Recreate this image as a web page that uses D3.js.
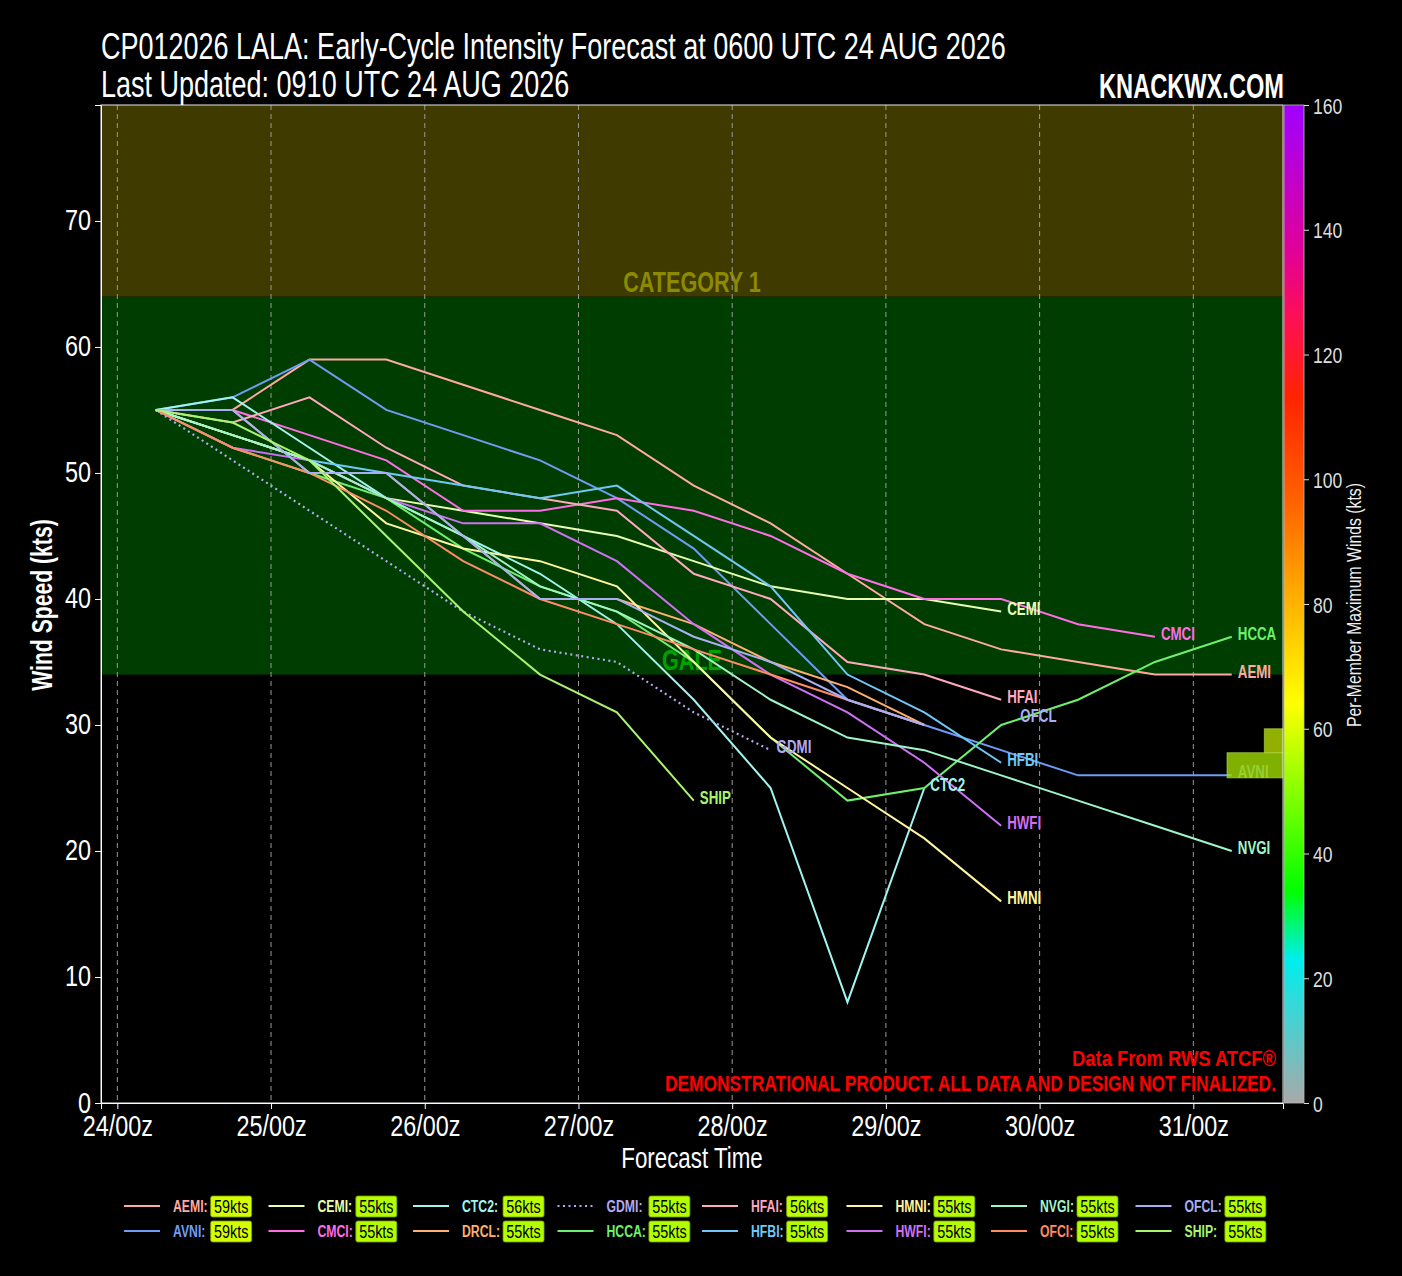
<!DOCTYPE html>
<html>
<head>
<meta charset="utf-8">
<script src="https://cdn.jsdelivr.net/npm/d3@7"></script>
<style>
  body { margin: 0; background: #000; }
  svg { display: block; font-family: "Liberation Sans", Arial, sans-serif; }
</style>
</head>
<body>
<script>
// forecast hours after the 0600 UTC 24 AUG 2026 init
var taus = [0, 12, 24, 36, 48, 60, 72, 84, 96, 108, 120, 132, 144, 156, 168];

var models = ["AEMI", "AVNI", "CEMI", "CMCI", "CTC2", "DRCL", "GDMI", "HCCA",
              "HFAI", "HFBI", "HMNI", "HWFI", "NVGI", "OFCI", "OFCL", "SHIP"];
var modelColors = ["#ffaaa0", "#6f9cf5", "#e8ffb0", "#ff6ee6", "#a0f5f0", "#ffb070", "#b4a8f0", "#6ef06e",
                   "#ffa8c0", "#6ec8f8", "#fff5a0", "#d070f5", "#a0f5c8", "#ff8c64", "#a8b0f5", "#a8f570"];

// wind speed (kts) per model, one value per tau
var AEMI = [55, 55, 59, 59, 57, 55, 53, 49, 46, 42, 38, 36, 35, 34, 34];
var AVNI = [55, 56, 59, 55, 53, 51, 48, 44, 38, 32, 30, 28, 26, 26, 26];
var CEMI = [55, 53, 51, 48, 47, 46, 45, 43, 41, 40, 40, 39];
var CMCI = [55, 55, 53, 51, 47, 47, 48, 47, 45, 42, 40, 40, 38, 37];
var CTC2 = [55, 56, 52, 48, 45, 42, 38, 32, 25, 8, 25];
var DRCL = [55, 55, 50, 50, 45, 40, 40, 38, 35, 33, 30];
var GDMI = [55, 51, 47, 43, 39, 36, 35, 31, 28];
var HCCA = [55, 52, 50, 48, 44, 41, 39, 35, 29, 24, 25, 30, 32, 35, 37];
var HFAI = [55, 54, 56, 52, 49, 48, 47, 42, 40, 35, 34, 32];
var HFBI = [55, 53, 51, 50, 49, 48, 49, 45, 41, 34, 31, 27];
var HMNI = [55, 53, 51, 46, 44, 43, 41, 35, 29, 25, 21, 16];
var HWFI = [55, 52, 51, 48, 46, 46, 43, 38, 34, 31, 27, 22];
var NVGI = [55, 53, 51, 48, 45, 41, 39, 36, 32, 29, 28, 26, 24, 22, 20];
var OFCI = [55, 52, 50, 47, 43, 40, 38, 36, 34, 32, 30];
var OFCL = [55, 55, 50, 50, 45, 40, 40, 37, 35, 32, 30];
var SHIP = [55, 54, 51, 45, 39, 34, 31, 24];

var windData = { AEMI: AEMI, AVNI: AVNI, CEMI: CEMI, CMCI: CMCI, CTC2: CTC2, DRCL: DRCL,
                 GDMI: GDMI, HCCA: HCCA, HFAI: HFAI, HFBI: HFBI, HMNI: HMNI, HWFI: HWFI,
                 NVGI: NVGI, OFCI: OFCI, OFCL: OFCL, SHIP: SHIP };

// end labels that are dropped / moved to dodge neighbours
var hiddenLabels = ["DRCL", "OFCI"];
var labelNudge = { OFCL: [90, -6] };

// intensity bands
var bandNames = ["GALE", "CATEGORY 1"];
var bandLow = [34, 64];
var bandHigh = [64, 79.2];
var bandFill = ["#003d00", "#3e3a00"];
var bandText = ["#00a000", "#8c8a00"];

// small histogram on the right edge
var histEdges = [25.8, 27.8, 29.7];
var histCounts = [3, 1];

// colour map stops (kts)
var cmapStops = [0, 23, 34, 64, 83, 96, 113, 125, 137, 160];
var cmapColors = ["#a9a9a9", "#00eeee", "#00ff00", "#ffff00", "#ffa500", "#ff6400", "#ff2400", "#ff1050", "#e0009a", "#a000ff"];
var cbarTicks = [0, 20, 40, 60, 80, 100, 120, 140, 160];

var width = 1402, height = 1276;
var plotL = 101, plotR = 1283, plotT = 105, plotB = 1103;

var initTime = Date.UTC(2026, 7, 24, 6);
var hour = 3600 * 1000;

var x = d3.scaleUtc()
    .domain([new Date(initTime - 8.55 * hour), new Date(initTime + 176 * hour)])
    .range([plotL, plotR]);
var y = d3.scaleLinear().domain([0, 79.2]).range([plotB, plotT]);
var cmap = d3.scaleLinear().domain(cmapStops).range(cmapColors);
var cy = d3.scaleLinear().domain([0, 160]).range([plotB, plotT]);

var svg = d3.select("body").append("svg")
    .attr("width", width)
    .attr("height", height)
    .style("background", "#000");

// text squeezed horizontally to look like the condensed face of the original
function narrow(parent, px, py, str, size, k, opts) {
    opts = opts || {};
    return parent.append("text")
        .attr("transform", "translate(" + px + "," + py + ")" + (opts.rotate ? " rotate(" + opts.rotate + ")" : "") + " scale(" + k + ",1)")
        .attr("text-anchor", opts.anchor || "start")
        .attr("font-size", size)
        .attr("font-weight", opts.weight || "normal")
        .style("fill", opts.fill || "#fff")
        .text(str);
}

// bands
svg.selectAll("rect.band")
    .data(bandNames)
    .enter().append("rect")
        .attr("class", "band")
        .attr("x", plotL)
        .attr("width", plotR - plotL)
        .attr("y", function(d, i) { return y(bandHigh[i]); })
        .attr("height", function(d, i) { return y(bandLow[i]) - y(bandHigh[i]); })
        .style("fill", function(d, i) { return bandFill[i]; });

bandNames.forEach(function(d, i) {
    narrow(svg, (plotL + plotR) / 2, y(bandLow[i]) - 5, d, 30, 0.72, { anchor: "middle", weight: "bold", fill: bandText[i] });
});

// vertical day grid
var days = d3.utcDay.range(new Date(Date.UTC(2026, 7, 24)), new Date(Date.UTC(2026, 7, 31, 1)));
svg.selectAll("line.grid")
    .data(days)
    .enter().append("line")
        .attr("class", "grid")
        .attr("x1", function(d) { return x(d); })
        .attr("x2", function(d) { return x(d); })
        .attr("y1", plotT)
        .attr("y2", plotB)
        .style("stroke", "#9a9a9a")
        .style("stroke-width", 1)
        .style("stroke-dasharray", "5,4");

// model lines
var line = d3.line()
    .x(function(d, i) { return x(new Date(initTime + taus[i] * hour)); })
    .y(function(d) { return y(d); });

var series = models.map(function(m, i) {
    return { name: m, color: modelColors[i], vals: windData[m], max: d3.max(windData[m]) };
});

svg.selectAll("path.model")
    .data(series)
    .enter().append("path")
        .attr("class", "model")
        .attr("d", function(d) { return line(d.vals); })
        .style("fill", "none")
        .style("stroke", function(d) { return d.color; })
        .style("stroke-width", function(d) { return d.name === "GDMI" ? 2.2 : 2; })
        .style("stroke-dasharray", function(d) { return d.name === "GDMI" ? "2,3.5" : null; });

// end labels
series.filter(function(d) { return hiddenLabels.indexOf(d.name) < 0; }).forEach(function(d) {
    var n = labelNudge[d.name] || [0, 0];
    var last = d.vals.length - 1;
    narrow(svg, x(new Date(initTime + taus[last] * hour)) + 6 + n[0], y(d.vals[last]) + 3 + n[1],
           d.name, 18, 0.74, { weight: "bold", fill: d.color });
});

// histogram boxes on right edge
var hw = d3.scaleLinear().domain([0, 3]).range([0, 56]);
var histColors = ["#a0dc00", "#b8dc00"];
svg.selectAll("rect.hist")
    .data(histCounts)
    .enter().append("rect")
        .attr("class", "hist")
        .attr("x", function(d) { return plotR - hw(d); })
        .attr("width", function(d) { return hw(d); })
        .attr("y", function(d, i) { return y(histEdges[i + 1]); })
        .attr("height", function(d, i) { return y(histEdges[i]) - y(histEdges[i + 1]); })
        .style("fill", function(d, i) { return histColors[i]; })
        .style("fill-opacity", 0.8)
        .style("stroke", "#b8e050")
        .style("stroke-opacity", 0.6);

// frame
svg.append("rect")
    .attr("x", plotL).attr("y", plotT)
    .attr("width", plotR - plotL).attr("height", plotB - plotT)
    .style("fill", "none").style("stroke", "#e8e8e8").style("stroke-width", 1);

// axes
var yAxis = svg.append("g")
    .attr("transform", "translate(" + plotL + ",0)")
    .call(d3.axisLeft(y).tickValues(d3.range(0, 71, 10)).tickSize(6).tickPadding(4));
var xAxis = svg.append("g")
    .attr("transform", "translate(0," + plotB + ")")
    .call(d3.axisBottom(x).tickValues(days).tickFormat(d3.utcFormat("%d/%Hz")).tickSize(6).tickPadding(4));

[yAxis, xAxis].forEach(function(g) {
    g.selectAll("path").style("stroke", "#fff");
    g.selectAll("line").style("stroke", "#fff");
    g.selectAll("text")
        .style("fill", "#fff")
        .style("font-family", "inherit")
        .style("font-size", "30px");
});
yAxis.selectAll("text").attr("x", null).attr("dy", null)
    .attr("transform", "translate(-10,9) scale(0.78,1)");
xAxis.selectAll("text").attr("y", null).attr("dy", null)
    .attr("transform", "translate(0,33) scale(0.78,1)");

narrow(svg, (plotL + plotR) / 2, 1168, "Forecast Time", 29, 0.77, { anchor: "middle" });
narrow(svg, 52, 605, "Wind Speed (kts)", 29, 0.73, { anchor: "middle", weight: "bold", rotate: -90 });

// colour bar
var grad = svg.append("defs").append("linearGradient")
    .attr("id", "cbar")
    .attr("x1", 0).attr("y1", 1).attr("x2", 0).attr("y2", 0);
grad.selectAll("stop")
    .data(cmapStops)
    .enter().append("stop")
        .attr("offset", function(d) { return d / 160; })
        .attr("stop-color", function(d, i) { return cmapColors[i]; });

svg.append("rect")
    .attr("x", 1284).attr("y", plotT)
    .attr("width", 20).attr("height", plotB - plotT)
    .style("fill", "url(#cbar)")
    .style("stroke", "#bbb").style("stroke-width", 0.8);

var cAxis = svg.append("g")
    .attr("transform", "translate(1304,0)")
    .call(d3.axisRight(cy).tickValues(cbarTicks).tickSize(5).tickPadding(4));
cAxis.select("path").remove();
cAxis.selectAll("line").style("stroke", "#ddd");
cAxis.selectAll("text")
    .style("fill", "#ddd")
    .style("font-family", "inherit")
    .style("font-size", "22px")
    .attr("x", null).attr("dy", null)
    .attr("transform", "translate(9,8) scale(0.8,1)");

narrow(svg, 1361, 605, "Per-Member Maximum Winds (kts)", 20, 0.79, { anchor: "middle", rotate: -90, fill: "#eee" });

// titles
narrow(svg, plotL, 59, "CP012026 LALA: Early-Cycle Intensity Forecast at 0600 UTC 24 AUG 2026", 37, 0.73);
narrow(svg, plotL, 97, "Last Updated: 0910 UTC 24 AUG 2026", 37, 0.73);
narrow(svg, 1284, 98, "KNACKWX.COM", 35, 0.675, { anchor: "end", weight: "bold" });

// disclaimer
narrow(svg, 1276, 1066, "Data From RWS ATCF®", 22, 0.835, { anchor: "end", weight: "bold", fill: "#ff0000" });
narrow(svg, 1276, 1091, "DEMONSTRATIONAL PRODUCT. ALL DATA AND DESIGN NOT FINALIZED.", 22, 0.79, { anchor: "end", weight: "bold", fill: "#ff0000" });

// legend: 8 columns x 2 rows, filled column by column
var colStep = 144.5, legX = 124, rowY = [1206, 1231], nameK = 0.72;
var items = svg.selectAll("g.item")
    .data(series)
    .enter().append("g")
        .attr("class", "item")
        .attr("transform", function(d, i) {
            return "translate(" + (legX + Math.floor(i / 2) * colStep) + "," + rowY[i % 2] + ")";
        });

items.append("line")
    .attr("x1", 0).attr("x2", 36)
    .style("stroke", function(d) { return d.color; })
    .style("stroke-width", 2)
    .style("stroke-dasharray", function(d) { return d.name === "GDMI" ? "2,3.5" : null; });

var nameW = [];
items.each(function(d, i) {
    var t = narrow(d3.select(this), 49, 6, d.name + ":", 17, nameK, { weight: "bold", fill: d.color });
    var c = Math.floor(i / 2);
    nameW[c] = Math.max(nameW[c] || 0, t.node().getComputedTextLength() * nameK);
});

items.each(function(d, i) {
    var g = d3.select(this);
    var bx = 49 + nameW[Math.floor(i / 2)] + 3;
    g.append("rect")
        .attr("x", bx).attr("y", -10)
        .attr("width", 41).attr("height", 21)
        .attr("rx", 2)
        .style("fill", cmap(d.max))
        .style("stroke", "#7a9a00").style("stroke-width", 0.8);
    narrow(g, bx + 20.5, 6.5, d.max + "kts", 18, 0.8, { anchor: "middle", fill: "#000" });
});
</script>
</body>
</html>
